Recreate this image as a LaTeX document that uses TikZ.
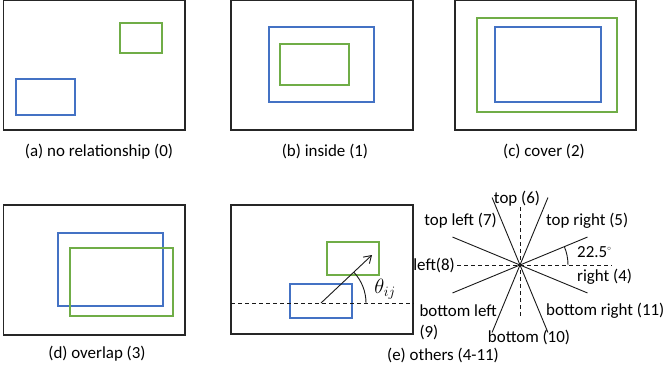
\documentclass[tikz,border=0pt]{standalone}
\usepackage{fontspec}
\setmainfont{Carlito}
\usetikzlibrary{arrows.meta,calc}
\definecolor{bluebox}{HTML}{4472C4}
\definecolor{greenbox}{HTML}{70AD47}
\begin{document}
\begin{tikzpicture}[x=1bp,y=-1bp,
  frame/.style={draw=black!85,line width=1.2bp},
  bbox/.style={draw=bluebox,line width=2.2bp},
  gbox/.style={draw=greenbox,line width=2.2bp},
  caption/.style={font=\fontsize{17}{20}\selectfont,inner sep=0pt},
  lbl/.style={font=\fontsize{17}{20}\selectfont,inner sep=0pt},
  ray/.style={draw=black!90,line width=0.9bp},
  dashline/.style={draw=black!90,line width=0.9bp,dash pattern=on 4bp off 3bp}]
\useasboundingbox (0,0) rectangle (663,375);
% (a)
\draw[frame] (3.5,0.6) rectangle (185,130);
\draw[gbox] (120,23) rectangle (162,53);
\draw[bbox] (16,79) rectangle (75,115);
\node[caption] (capa) at (99,152) {(a) no relationship (0)};
% (b)
\draw[frame] (231,0.6) rectangle (413,130);
\draw[bbox] (269,27) rectangle (374,102);
\draw[gbox] (280,44) rectangle (349,85);
\node[caption] (capb) at (325,151) {(b) inside (1)};
% (c)
\draw[frame] (455,0.6) rectangle (636,130);
\draw[gbox] (477,18) rectangle (617,112);
\draw[bbox] (495,27) rectangle (601,102);
\node[caption] (capc) at (544,151) {(c) cover (2)};
% (d)
\draw[frame] (3.5,205) rectangle (185,335);
\draw[bbox] (58,233) rectangle (163,306);
\draw[gbox] (70,248) rectangle (173,316);
\node[caption] (capd) at (97,354) {(d) overlap (3)};
% (e)
\draw[frame] (231,205) rectangle (413,334);
\draw[gbox] (327,242) rectangle (379,275);
\draw[bbox] (290,284) rectangle (352,318);
\coordinate (O) at (321,303);
\coordinate (A) at (372,255);
\coordinate (L) at (231,303);
\coordinate (R) at (414,303);
\draw[dashline] (L) -- (R);
\draw[ray,-{Straight Barb[length=7bp,width=9bp]}] (O) -- (A);
\draw[ray] ($(O)+(0:45)$) arc[start angle=0,end angle=-43,radius=45];
\node[lbl,font=\fontsize{22}{24}\selectfont] (theta) at (385,289) {$\theta_{ij}$};
\node[caption] (cape) at (443,355) {(e) others (4-11)};
% star
\coordinate (C) at (520,265);
\coordinate (vt) at (520,207);
\coordinate (vb) at (520,319);
\coordinate (hl) at (457,265);
\coordinate (hr) at (612,265);
\draw[dashline] (vt) -- (vb);
\draw[dashline] (hl) -- (hr);
\foreach \a in {-22.5,22.5,-67.5,67.5}
  \draw[ray] ($(C)+(\a:73)$) -- ($(C)+(\a+180:73)$);
\draw[ray] ($(C)+(0:48)$) arc[start angle=0,end angle=-22.5,radius=48];
\node[lbl] (t6) at (517,199) {top (6)};
\node[lbl,anchor=west] (t5) at (546,221) {top right (5)};
\node[lbl,anchor=east] (t7) at (497,221) {top left (7)};
\node[lbl,anchor=west] (ang) at (577,252) {22.5\raisebox{0.9ex}{\fontsize{7}{8}\selectfont$\circ$}};
\node[lbl,anchor=east] (t8) at (455,265) {left(8)};
\node[lbl,anchor=west] (t4) at (577,277) {right (4)};
\node[lbl,anchor=east] (t9) at (497,311) {bottom left};
\node[lbl,anchor=west] (t9b) at (t9.west |- 0,332) {(9)};
\node[lbl,anchor=west] (t11) at (546,311) {bottom right (11)};
\node[lbl] (t10) at (529,337) {bottom (10)};
\end{tikzpicture}
\end{document}
